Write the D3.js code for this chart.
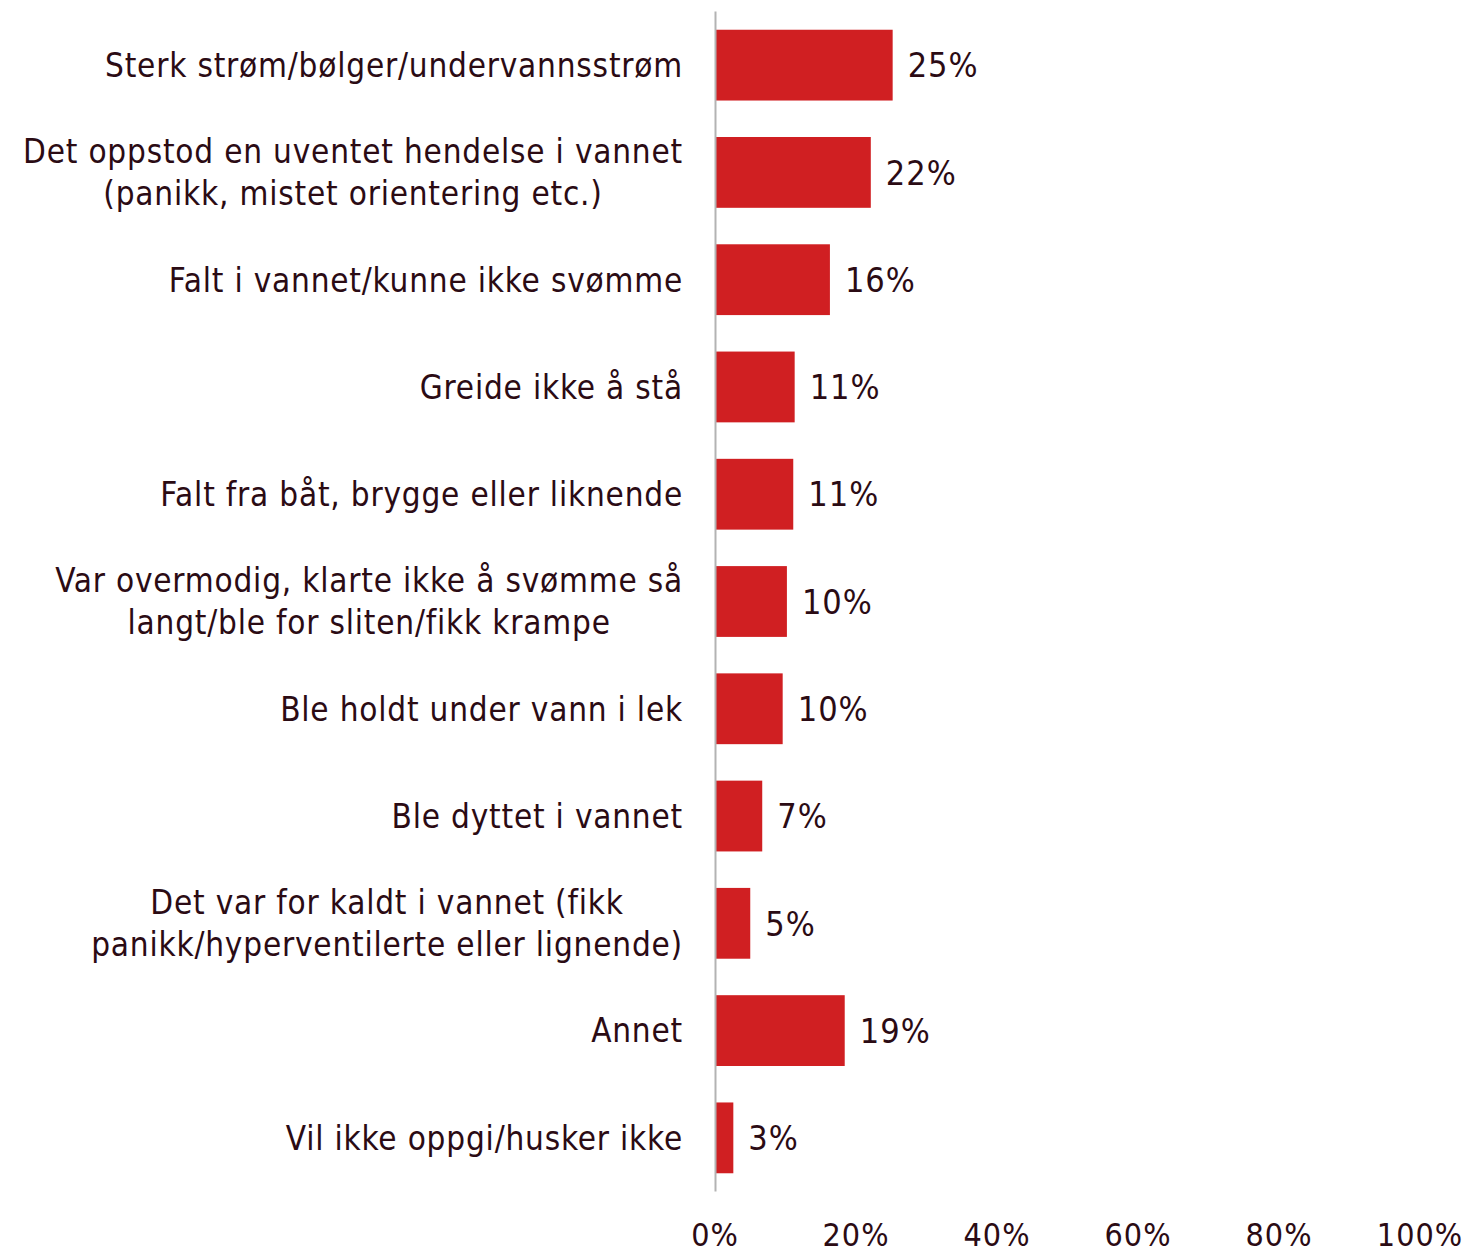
<!DOCTYPE html>
<html>
<head>
<meta charset="utf-8">
<script src="https://cdn.jsdelivr.net/npm/d3@7"></script>
<style>
  html, body { margin: 0; padding: 0; background: #fff; }
  svg { display: block; }
  text { font-family: "Liberation Sans Narrow", "DejaVu Sans Condensed", sans-serif; fill: #2b0b14; }
</style>
</head>
<body>
<svg id="chart" width="1472" height="1254"></svg>
<script>
const categories = [
  ["Sterk strøm/bølger/undervannsstrøm"],
  ["Det oppstod en uventet hendelse i vannet", "(panikk, mistet orientering etc.)"],
  ["Falt i vannet/kunne ikke svømme"],
  ["Greide ikke å stå"],
  ["Falt fra båt, brygge eller liknende"],
  ["Var overmodig, klarte ikke å svømme så", "langt/ble for sliten/fikk krampe"],
  ["Ble holdt under vann i lek"],
  ["Ble dyttet i vannet"],
  ["Det var for kaldt i vannet (fikk", "panikk/hyperventilerte eller lignende)"],
  ["Annet"],
  ["Vil ikke oppgi/husker ikke"]
];
const values = [25.2, 22.1, 16.3, 11.3, 11.1, 10.2, 9.6, 6.7, 5.0, 18.4, 2.6];
const valueLabels = ["25%", "22%", "16%", "11%", "11%", "10%", "10%", "7%", "5%", "19%", "3%"];
const tickValues = [0, 20, 40, 60, 80, 100];
const tickLabels = ["0%", "20%", "40%", "60%", "80%", "100%"];

const svg = d3.select("#chart");
const fontSize = 33;
const x = d3.scaleLinear().domain([0, 100]).range([715, 1420]);
const y = d3.scaleBand().domain(d3.range(categories.length)).range([11.5, 1191.5]).paddingInner(0.34).paddingOuter(0.17);

// bars
svg.append("g").selectAll("rect").data(values).join("rect")
  .attr("x", x(0))
  .attr("y", (d, i) => y(i))
  .attr("width", d => x(d) - x(0))
  .attr("height", y.bandwidth())
  .attr("fill", "#d01f22");

// axis line
svg.append("line")
  .attr("x1", x(0) + 0.5).attr("x2", x(0) + 0.5)
  .attr("y1", 11.5).attr("y2", 1191.5)
  .attr("stroke", "#b3b3b3").attr("stroke-width", 2);

// value labels
svg.append("g").selectAll("text").data(values).join("text")
  .attr("x", d => x(d) + 15)
  .attr("y", (d, i) => y(i) + y.bandwidth() / 2)
  .attr("dy", "0.36em")
  .style("font-size", "34px")
  .style("letter-spacing", "1px")
  .text((d, i) => valueLabels[i]);

// category labels
const right = 683;
const lineH = 42;
const lg = svg.append("g");
categories.forEach((lines, i) => {
  const cy = y(i) + y.bandwidth() / 2;
  const t = lg.append("text")
    .style("font-size", fontSize + "px")
    .style("letter-spacing", "0.8px")
    .attr("text-anchor", "middle");
  const spans = lines.map((l, j) => t.append("tspan")
    .attr("y", cy + (j - (lines.length - 1) / 2) * lineH)
    .attr("dy", "0.36em")
    .text(l));
  let maxW = 0;
  spans.forEach(s => { maxW = Math.max(maxW, s.node().getComputedTextLength()); });
  spans.forEach(s => s.attr("x", right - maxW / 2));
});

// x axis tick labels
svg.append("g").selectAll("text").data(tickValues).join("text")
  .attr("x", d => x(d))
  .attr("y", 1246)
  .attr("text-anchor", "middle")
  .style("font-size", "32px")
  .style("letter-spacing", "1px")
  .text((d, i) => tickLabels[i]);
</script>
</body>
</html>
